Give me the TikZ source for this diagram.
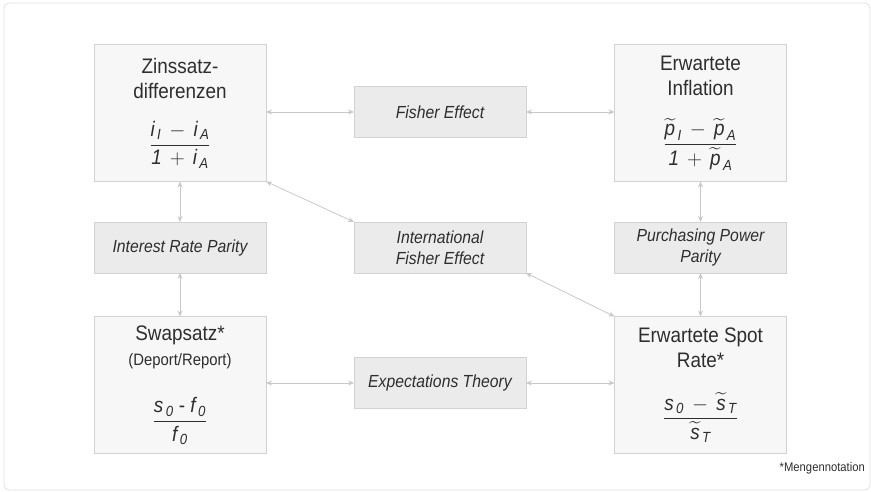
\documentclass[tikz,border=0pt]{standalone}
\usepackage{amsmath}
\usepackage{fontspec}
\setmainfont{Liberation Sans}[FakeStretch=0.9]
\usetikzlibrary{arrows.meta,positioning}

\definecolor{txtgray}{HTML}{2E2E2E}
\definecolor{linegray}{HTML}{C8C8C8}
\definecolor{edgegray}{HTML}{D2D2D2}

% italic variable in formulas
\newcommand{\fvar}[1]{\textit{#1}}
\newcommand{\fsub}[1]{_{\,\textit{#1}}}

\begin{document}
\begin{tikzpicture}[
  x=1pt, y=-1pt,
  box/.style={
    draw=edgegray,
    line width=0.8pt,
    minimum width=172pt,
    align=center,
    inner sep=2pt,
    outer sep=0pt,
    text=txtgray
  },
  mainbox/.style={
    box,
    fill=black!3,
    minimum height=137pt,
    font=\fontsize{21}{25}\selectfont
  },
  relbox/.style={
    box,
    fill=black!8,
    minimum height=51pt,
    font=\fontsize{17.5}{21}\selectfont\itshape
  },
  link/.style={
    linegray,
    line width=0.8pt,
    {Stealth[length=6pt,width=5pt]}-{Stealth[length=6pt,width=5pt]}
  },
  note/.style={
    font=\fontsize{12.5}{15}\selectfont,
    text=txtgray,
    inner sep=0pt
  }
]

\useasboundingbox (0,0) rectangle (871,491);

\draw[black!12, line width=0.8pt, rounded corners=5pt]
  (4,3) rectangle (870,490);

% main boxes
\node[mainbox] (zins) at (180,113)
  {Zinssatz-\\differenzen\\[22pt]
   {\fontsize{21}{25}\selectfont
    $\dfrac{\fvar{i}\fsub{I} \,-\, \fvar{i}\fsub{A}}{\fvar{1} \,+\, \fvar{i}\fsub{A}}$}};

\node[mainbox] (infl) at (700.5,113)
  {Erwartete\\Inflation\\[22pt]
   {\fontsize{21}{25}\selectfont
    $\dfrac{\widetilde{\fvar{p}}\fsub{I} \,-\, \widetilde{\fvar{p}}\fsub{A}}{\fvar{1} \,+\, \widetilde{\fvar{p}}\fsub{A}}$}};

\node[mainbox] (swap) at (180,385)
  {Swapsatz*\\{\fontsize{16.5}{22}\selectfont (Deport/Report)}\\[28pt]
   {\fontsize{21}{25}\selectfont
    $\dfrac{\fvar{s}\fsub{0}\text{ - }\fvar{f}\fsub{0}}{\fvar{f}\fsub{0}}$}};

\node[mainbox] (spot) at (700.5,385)
  {Erwartete Spot\\Rate*\\[24pt]
   {\fontsize{21}{25}\selectfont
    $\dfrac{\fvar{s}\fsub{0} \,-\, \widetilde{\fvar{s}}\fsub{T}}{\widetilde{\fvar{s}}\fsub{T}}$}};

% relations
\node[relbox] (fisher) at (440,112)
  {Fisher Effect};

\node[relbox] (ife) at (440,247.5)
  {International\\Fisher Effect};

\node[relbox] (irp) at (180,247.5)
  {Interest Rate Parity};

\node[relbox] (ppp) at (700.5,247.5)
  {Purchasing Power\\Parity};

\node[relbox] (expth) at (440,383)
  {Expectations Theory};

\node[note, anchor=east] (mengen) at (865,468)
  {*Mengennotation};

\draw[link] (zins.east |- fisher) -- (fisher);
\draw[link] (fisher) -- (infl.west |- fisher);
\draw[link] (zins) -- (irp);
\draw[link] (irp) -- (swap);
\draw[link] (infl) -- (ppp);
\draw[link] (ppp) -- (spot);
\draw[link] (swap.east |- expth) -- (expth);
\draw[link] (expth) -- (spot.west |- expth);
\draw[link] (zins.south east) -- (ife.north west);
\draw[link] (ife.south east) -- (spot.north west);

\end{tikzpicture}
\end{document}
